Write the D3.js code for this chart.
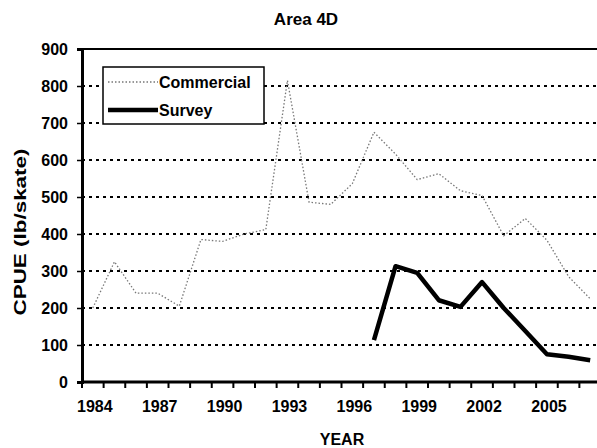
<!DOCTYPE html>
<html>
<head>
<meta charset="utf-8">
<script src="https://cdn.jsdelivr.net/npm/d3@7"></script>
<style>
  body { margin: 0; background: #fff; }
  text { font-family: "Liberation Sans", Arial, sans-serif; font-weight: bold; fill: #000; }
</style>
</head>
<body>
<svg id="chart" width="597" height="448"></svg>
<script>
var years = d3.range(1984, 2008);
var yTicks = [0, 100, 200, 300, 400, 500, 600, 700, 800, 900];
var yearLabels = [1984, 1987, 1990, 1993, 1996, 1999, 2002, 2005];

var commercial = [200, 325, 240, 240, 205, 385, 380, 400, 412, 815, 486, 480, 536, 675, 616, 547, 563, 517, 504, 395, 442, 383, 285, 225];
var surveyYears = [1997, 1998, 1999, 2000, 2001, 2002, 2003, 2004, 2005, 2006, 2007];
var survey = [113, 313, 295, 221, 203, 270, 200, 138, 75, 68, 59];

(function () {
    var svg = d3.select('#chart');
    var pLeft = 82, pRight = 601, pTop = 49, pBottom = 382;

    var xScale = d3.scaleBand().domain(years).range([pLeft, pRight]);
    var yScale = d3.scaleLinear().domain([0, 900]).range([pBottom, pTop]);
    var xc = function (y) { return xScale(y) + xScale.bandwidth() / 2; };

    // title
    svg.append('text').attr('x', 306).attr('y', 25).attr('text-anchor', 'middle')
        .style('font-size', '17px').text('Area 4D');

    // gridlines
    svg.selectAll('.grid').data(yTicks.filter(function (d) { return d > 0 && d < 900; }))
        .enter().append('line')
        .attr('x1', pLeft).attr('x2', 597)
        .attr('y1', function (d) { return yScale(d); }).attr('y2', function (d) { return yScale(d); })
        .attr('stroke', '#000').attr('stroke-width', 2).attr('stroke-dasharray', '3,4');

    // top border
    svg.append('line').attr('x1', pLeft).attr('x2', 597).attr('y1', pTop).attr('y2', pTop)
        .attr('stroke', '#000').attr('stroke-width', 2);

    // y axis
    var yAxis = d3.axisLeft(yScale).tickValues(yTicks).tickSize(5).tickPadding(9);
    var yg = svg.append('g').attr('transform', 'translate(' + pLeft + ',0)').call(yAxis);
    yg.select('.domain').attr('stroke-width', 3);
    yg.selectAll('line').attr('stroke-width', 1.5);
    yg.selectAll('text').style('font-size', '16px').style('font-family', '"Liberation Sans", Arial, sans-serif').style('font-weight', 'bold');

    // x axis line + ticks at category edges
    svg.append('line').attr('x1', pLeft).attr('x2', 597).attr('y1', pBottom).attr('y2', pBottom)
        .attr('stroke', '#000').attr('stroke-width', 3);
    svg.selectAll('.xt').data(years).enter().append('line')
        .attr('x1', function (d) { return xScale(d); }).attr('x2', function (d) { return xScale(d); })
        .attr('y1', pBottom).attr('y2', pBottom + 6)
        .attr('stroke', '#000').attr('stroke-width', 2);
    svg.selectAll('.xl').data(yearLabels).enter().append('text')
        .attr('x', function (d) { return xc(d) + 2; }).attr('y', 412)
        .attr('text-anchor', 'middle').style('font-size', '16px')
        .text(function (d) { return d; });

    // axis titles
    svg.append('text').attr('x', 342).attr('y', 445).attr('text-anchor', 'middle')
        .style('font-size', '16px').text('YEAR');
    svg.append('text').attr('transform', 'translate(26,232) rotate(-90)')
        .attr('text-anchor', 'middle').style('font-size', '17px')
        .attr('textLength', 167).attr('lengthAdjust', 'spacingAndGlyphs')
        .text('CPUE (lb/skate)');

    // lines
    var line = d3.line().x(function (d) { return xc(d[0]); }).y(function (d) { return yScale(d[1]); });
    svg.append('path').datum(d3.zip(years, commercial)).attr('d', line)
        .attr('fill', 'none').attr('stroke', '#777').attr('stroke-width', 1.3).attr('stroke-dasharray', '1.5,2');
    svg.append('path').datum(d3.zip(surveyYears, survey)).attr('d', line)
        .attr('fill', 'none').attr('stroke', '#000').attr('stroke-width', 4.5).attr('stroke-linejoin', 'round');

    // legend
    var lg = svg.append('g');
    lg.append('rect').attr('x', 103).attr('y', 67).attr('width', 161).attr('height', 57)
        .attr('fill', '#fff').attr('stroke', '#000').attr('stroke-width', 1.5);
    lg.append('line').attr('x1', 108).attr('x2', 158).attr('y1', 82).attr('y2', 82)
        .attr('stroke', '#777').attr('stroke-width', 1.3).attr('stroke-dasharray', '1.5,2');
    lg.append('line').attr('x1', 108).attr('x2', 158).attr('y1', 110).attr('y2', 110)
        .attr('stroke', '#000').attr('stroke-width', 4.5);
    lg.append('text').attr('x', 159).attr('y', 88).style('font-size', '16px').text('Commercial');
    lg.append('text').attr('x', 159).attr('y', 116).style('font-size', '16px').text('Survey');
}).call(this);
</script>
</body>
</html>
